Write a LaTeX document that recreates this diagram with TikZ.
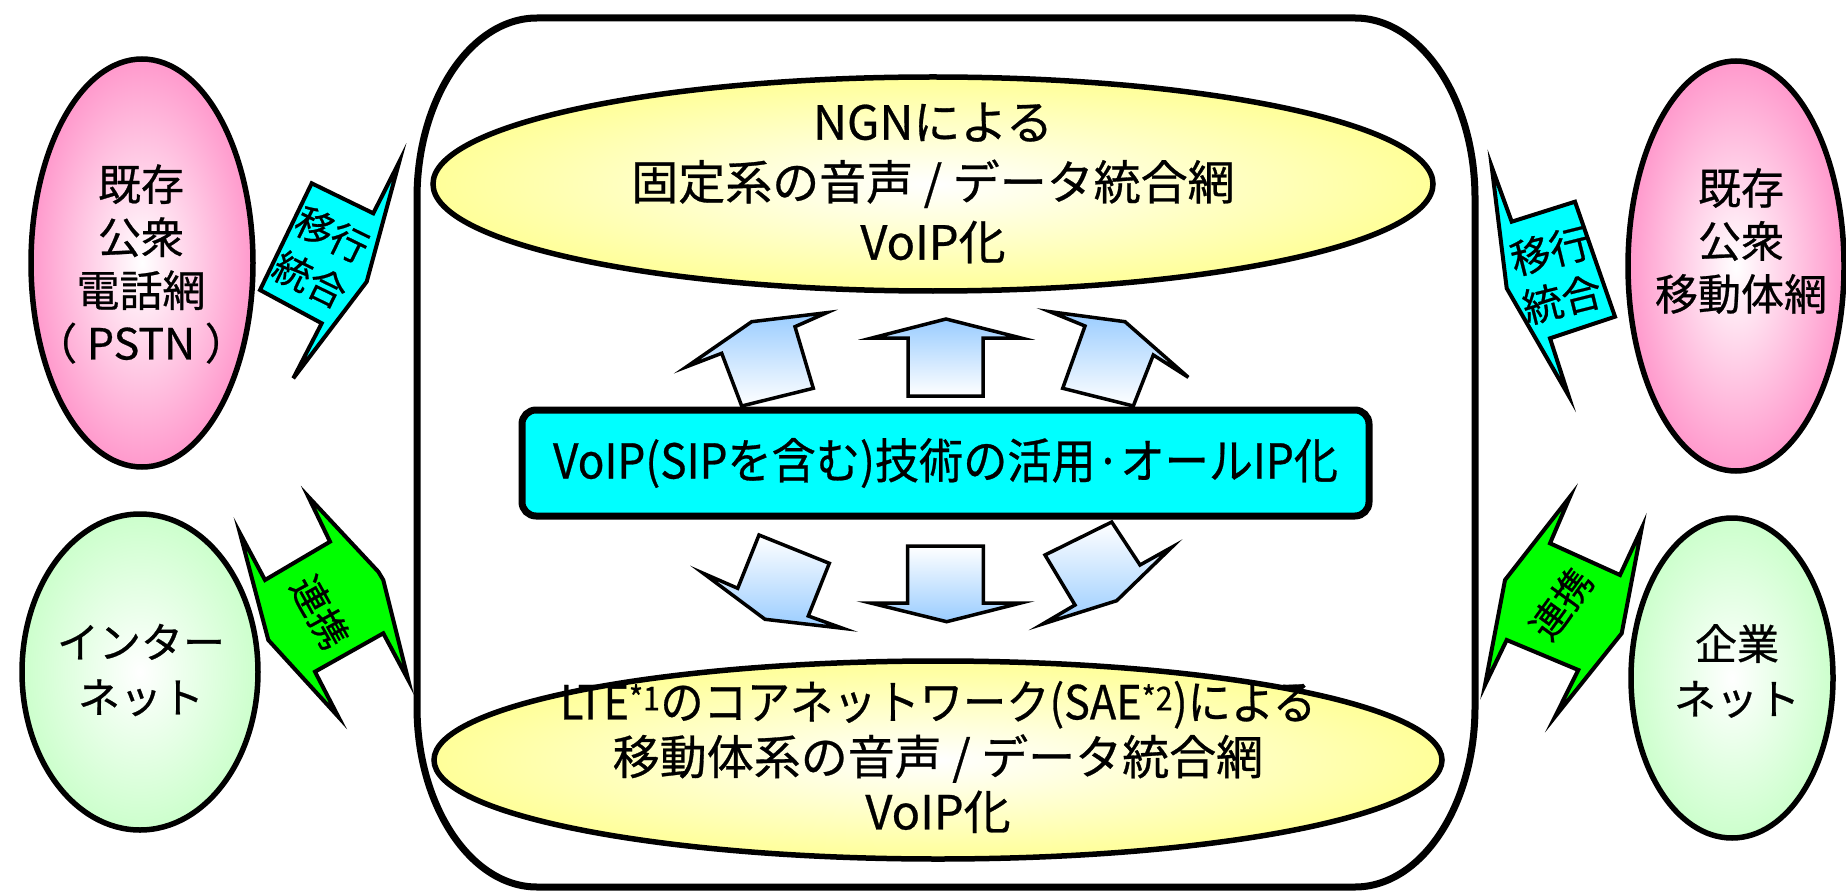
\documentclass[tikz,border=0pt]{standalone}
\usepackage{graphicx}
\usepackage{fontspec}
\setmainfont{Noto Sans CJK JP}[FakeBold=0.6]
\usetikzlibrary{shapes.geometric}
\definecolor{pinkE}{HTML}{FF99CC}
\definecolor{greenE}{HTML}{CCFFCC}
\definecolor{yellowE}{HTML}{FFFF99}
\definecolor{arrowblue}{HTML}{99CCFF}
\definecolor{cyanF}{HTML}{00FFFF}
\definecolor{greenF}{HTML}{00FF00}
\begin{document}
\begin{tikzpicture}[x=1pt,y=-1pt,
  ell/.style={ellipse, draw, line width=5.5pt, inner sep=0pt},
  pinkell/.style={ell, inner color=white, outer color=pinkE},
  greenell/.style={ell, inner color=white, outer color=greenE},
  yellowell/.style={ell, inner color=white, outer color=yellowE},
  bigbox/.style={draw, line width=7pt},
  corebox/.style={draw, line width=7pt, fill=cyanF, rounded corners=14pt, inner sep=0pt},
  barrowup/.style={draw, line width=3.5pt, top color=arrowblue, bottom color=white},
  barrowdown/.style={draw, line width=3.5pt, top color=white, bottom color=arrowblue},
  bolt/.style={draw, line width=4pt, fill=cyanF},
  linkbox/.style={draw, line width=4pt, fill=greenF},
  txt/.style={align=center, inner sep=0pt},
  sidetxt/.style={txt, font=\fontsize{43}{53}\selectfont},
  maintxt/.style={txt, font=\fontsize{47}{60}\selectfont},
  bolttxt/.style={txt, font=\fontsize{38}{50}\selectfont}
]
\fill[white] (0,0) rectangle (1846,893);
\useasboundingbox (0,0) rectangle (1846,893);

% big rounded frame
\draw[bigbox] (537,18) -- (1355,18) .. controls (1421,18) and (1475,99) .. (1475,198)
  -- (1475,707) .. controls (1475,806) and (1421,887) .. (1355,887)
  -- (537,887) .. controls (471,887) and (417,806) .. (417,707)
  -- (417,198) .. controls (417,99) and (471,18) .. (537,18) -- cycle;

% ellipses
\node[yellowell, minimum width=1000pt, minimum height=214pt] (ngn) at (933,184) {};
\node[yellowell, minimum width=1008pt, minimum height=198pt] (lte) at (938,760) {};
\node[pinkell, minimum width=222pt, minimum height=408pt] (pstn) at (142,263) {};
\node[greenell, minimum width=236pt, minimum height=316pt] (inet) at (140,672) {};
\node[pinkell, minimum width=216pt, minimum height=410pt] (mobile) at (1736,266) {};
\node[greenell, minimum width=202pt, minimum height=320pt] (corp) at (1732,678) {};

\node[maintxt] (ngnText) at (933,183) {NGNによる\\固定系の音声 / データ統合網\\VoIP化};
\node[maintxt, font=\fontsize{47}{55}\selectfont] (lteText) at (938,757) {\scalebox{0.92}[1]{LTE\textsuperscript{*1}のコアネットワーク(SAE\textsuperscript{*2})による}\\移動体系の音声 / データ統合網\\VoIP化};
\node[sidetxt] (pstnText) at (141,264) {既存\\公衆\\電話網\\（ PSTN ）};
\node[sidetxt, font=\fontsize{42}{55}\selectfont] (inetText) at (141,670) {インター\\ネット};
\node[sidetxt] (mobileText) at (1741,241) {既存\\公衆\\移動体網};
\node[sidetxt, font=\fontsize{42}{55}\selectfont] (corpText) at (1737,671) {企業\\ネット};

% central box
\node[corebox, minimum width=847pt, minimum height=106pt] (core) at (945.5,463) {\fontsize{48}{50}\selectfont\scalebox{0.92}[1]{VoIP(SIPを含む)技術の活用·オールIP化}};

% up arrows
\draw[barrowup] (686.7,366.7) -- (751.7,321.7) -- (826.7,312.7) -- (795,326.7) -- (813.3,388.3) -- (741.7,406) -- (721.7,353.3) -- cycle;
\draw[barrowup] (872,338) -- (946,319) -- (1021,338) -- (983,338) -- (983,396) -- (908,396) -- (908,338) -- cycle;
\draw[barrowup] (1050,311.7) -- (1125,321.7) -- (1188.3,377.3) -- (1153.3,355) -- (1133.3,406) -- (1062.7,388.3) -- (1085,326) -- cycle;

% down arrows
\draw[barrowdown] (703.3,573.3) -- (765,619.3) -- (842.7,628.3) -- (808.3,616) -- (829.3,563.3) -- (759,535) -- (737.7,588.3) -- cycle;
\draw[barrowdown] (870.7,603) -- (946.7,621.7) -- (1020.7,603) -- (983.3,603) -- (983.3,546) -- (907.7,546) -- (907.7,603) -- cycle;
\draw[barrowdown] (1042.7,624) -- (1116.7,600.7) -- (1171.7,547.3) -- (1140,565) -- (1111.7,522) -- (1045,555) -- (1075,605) -- cycle;

% migration bolts (cyan)
\draw[bolt] (399.3,161.7) -- (373.3,213.3) -- (311.7,183.3) -- (260,290) -- (321.7,323.3) -- (293.3,378.3) -- (366.7,281.7) -- cycle;
\node[bolttxt, rotate=-26] (migL) at (321,257) {移行\\統合};
\draw[bolt] (1491.7,166.7) -- (1511.7,221.7) -- (1575,201.7) -- (1615,316.7) -- (1550,338.3) -- (1568.3,395) -- (1506.7,288.3) -- cycle;
\node[bolttxt, rotate=14, font=\fontsize{40}{50}\selectfont] (migR) at (1556,275) {移行\\統合};

% link shapes (green)
\draw[linkbox] (308.3,496.7) -- (378.3,571.7) -- (383.3,580) -- (408.3,680) -- (383.3,633.3) -- (315,671.7) -- (338.3,716.7) -- (268.3,640) -- (240,533.3) -- (265,580) -- (330,541.7) -- cycle;
\node[bolttxt, rotate=-61] (linkL) at (320,612) {連携};
\draw[linkbox] (1570,496.7) -- (1550,543.3) -- (1620,575) -- (1641.7,528.3) -- (1621.7,633.3) -- (1555,716.7) -- (1578.3,670) -- (1506.7,640) -- (1485,685) -- (1505,580) -- cycle;
\node[bolttxt, rotate=54] (linkR) at (1561,604) {連携};
\end{tikzpicture}
\end{document}
